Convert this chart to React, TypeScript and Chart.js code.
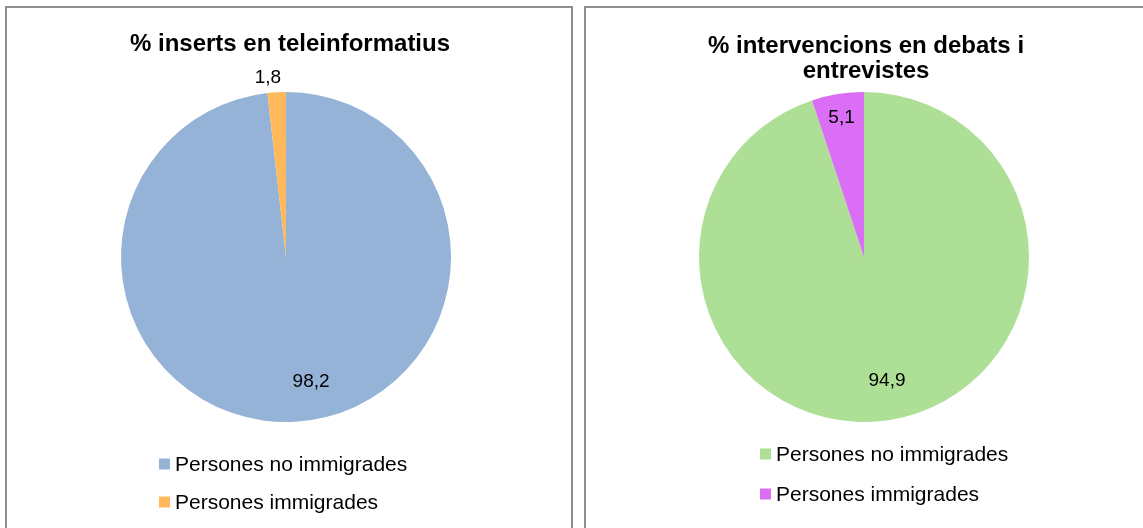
import React, { useEffect, useRef } from "react";
import { Chart, registerables } from "chart.js";

Chart.register(...registerables);

// ---- data ----
const categories = ["Persones no immigrades", "Persones immigrades"];
const insertsValues = [98.2, 1.8];
const debatesValues = [94.9, 5.1];
const insertsTitle = ["% inserts en teleinformatius"];
const debatesTitle = ["% intervencions en debats i", "entrevistes"];

// ---- styles ----
const insertsColors = ["#95B3D7", "#FFB95B"];
const debatesColors = ["#ADDF96", "#DA6EF4"];
const FONT = '"Liberation Sans", Arial, Helvetica, sans-serif';

const fmt = (v: number) => v.toFixed(1).replace(".", ",");

const overlayPlugin = {
  id: "overlay",
  afterDraw(chart: any, _args: any, opts: any) {
    const ctx = chart.ctx as CanvasRenderingContext2D;
    ctx.save();
    // title
    ctx.fillStyle = "#000";
    ctx.textAlign = "center";
    ctx.textBaseline = "middle";
    ctx.font = `bold 24px ${FONT}`;
    (opts.titleLines as string[]).forEach((line, i) => {
      ctx.fillText(line, opts.titleX, opts.titleY + i * opts.titleLineHeight);
    });
    // data labels
    ctx.font = `19px ${FONT}`;
    const meta = chart.getDatasetMeta(0);
    const values = chart.data.datasets[0].data as number[];
    meta.data.forEach((arc: any, i: number) => {
      const p = arc.getProps(["x", "y", "startAngle", "endAngle", "outerRadius"], true);
      const mid = (p.startAngle + p.endAngle) / 2;
      const d = opts.labelRadius[i] * p.outerRadius;
      const lx = p.x + Math.cos(mid) * d + opts.labelDx[i];
      const ly = p.y + Math.sin(mid) * d;
      ctx.fillText(fmt(values[i]), lx, ly);
    });
    // legend
    ctx.textAlign = "left";
    ctx.font = `21px ${FONT}`;
    const colors = chart.data.datasets[0].backgroundColor as string[];
    (chart.data.labels as string[]).forEach((label, i) => {
      const cy = opts.legendY + i * opts.legendGap;
      ctx.fillStyle = colors[i];
      ctx.fillRect(opts.legendX, cy - 5.5, 11, 11);
      ctx.fillStyle = "#000";
      ctx.fillText(label, opts.legendX + 16, cy + 1);
    });
    ctx.restore();
  },
};

type PanelProps = {
  left: number;
  top: number;
  width: number;
  height: number;
  values: number[];
  colors: string[];
  title: string[];
  padding: { left: number; right: number; top: number; bottom: number };
  overlay: any;
};

function PiePanel(props: PanelProps) {
  const ref = useRef<HTMLCanvasElement | null>(null);
  useEffect(() => {
    if (!ref.current) return;
    const chart = new Chart(ref.current, {
      type: "pie",
      data: {
        labels: categories,
        datasets: [
          {
            data: props.values,
            backgroundColor: props.colors,
            borderWidth: 0,
          },
        ],
      },
      options: {
        responsive: false,
        animation: false,
        layout: { padding: props.padding },
        plugins: {
          legend: { display: false },
          title: { display: false },
          tooltip: { enabled: false },
          overlay: { titleLines: props.title, ...props.overlay },
        } as any,
      },
      plugins: [overlayPlugin as any],
    });
    return () => chart.destroy();
  }, []);
  const cw = props.width - 4;
  const ch = props.height - 4;
  return (
    <div
      style={{
        position: "absolute",
        left: props.left,
        top: props.top,
        width: props.width - 4,
        height: props.height - 4,
        border: "2px solid #8E8E8E",
        background: "#fff",
      }}
    >
      <canvas ref={ref} width={cw} height={ch} style={{ display: "block" }} />
    </div>
  );
}

export default function App() {
  return (
    <div
      style={{
        position: "fixed",
        left: 0,
        top: 0,
        width: 1143,
        height: 528,
        overflow: "hidden",
        background: "#fff",
      }}
    >
      <PiePanel
        left={5}
        top={6}
        width={568}
        height={540}
        values={insertsValues}
        colors={insertsColors}
        title={insertsTitle}
        padding={{ left: 114, right: 120, top: 84, bottom: 122 }}
        overlay={{
          titleX: 283,
          titleY: 36,
          titleLineHeight: 25,
          labelRadius: [0.76, 1.085],
          labelDx: [18, -8],
          legendX: 152,
          legendY: 456,
          legendGap: 38,
        }}
      />
      <PiePanel
        left={584}
        top={6}
        width={570}
        height={540}
        values={debatesValues}
        colors={debatesColors}
        title={debatesTitle}
        padding={{ left: 113, right: 123, top: 84, bottom: 122 }}
        overlay={{
          titleX: 280,
          titleY: 38,
          titleLineHeight: 25,
          labelRadius: [0.76, 0.853],
          labelDx: [3, 0],
          legendX: 174,
          legendY: 446,
          legendGap: 40,
        }}
      />
    </div>
  );
}
